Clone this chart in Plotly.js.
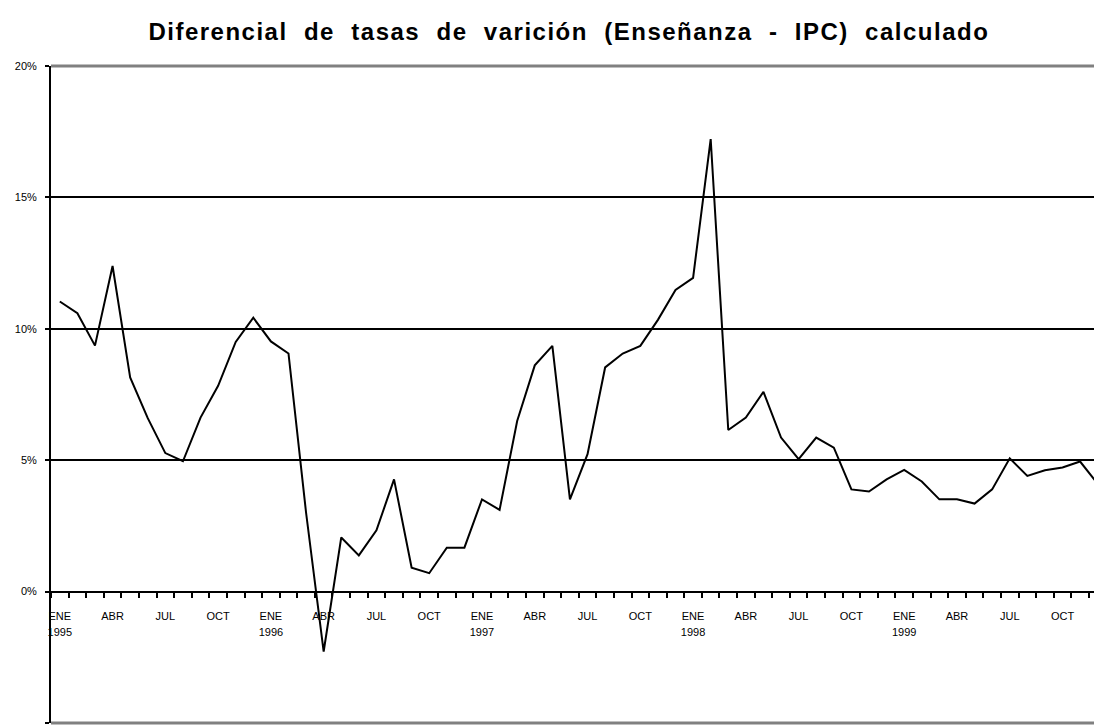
<!DOCTYPE html>
<html>
<head>
<meta charset="utf-8">
<script src="https://cdn.plot.ly/plotly-3.0.1.min.js"></script>
<style>
html,body{margin:0;padding:0;background:#fff;}
#chart{width:1094px;height:726px;}
#chart .gtitle{letter-spacing:1.5px;}
</style>
</head>
<body>
<div id="chart"></div>
<script>
// Months Jan 1995 .. Dec 1999
const months = [
  "ENE 1995","FEB 1995","MAR 1995","ABR 1995","MAY 1995","JUN 1995","JUL 1995","AGO 1995","SEP 1995","OCT 1995","NOV 1995","DIC 1995",
  "ENE 1996","FEB 1996","MAR 1996","ABR 1996","MAY 1996","JUN 1996","JUL 1996","AGO 1996","SEP 1996","OCT 1996","NOV 1996","DIC 1996",
  "ENE 1997","FEB 1997","MAR 1997","ABR 1997","MAY 1997","JUN 1997","JUL 1997","AGO 1997","SEP 1997","OCT 1997","NOV 1997","DIC 1997",
  "ENE 1998","FEB 1998","MAR 1998","ABR 1998","MAY 1998","JUN 1998","JUL 1998","AGO 1998","SEP 1998","OCT 1998","NOV 1998","DIC 1998",
  "ENE 1999","FEB 1999","MAR 1999","ABR 1999","MAY 1999","JUN 1999","JUL 1999","AGO 1999","SEP 1999","OCT 1999","NOV 1999","DIC 1999"
];
// Differential (%)
const diferencial = [
  11.04, 10.59, 9.36, 12.39, 8.15, 6.60, 5.27, 4.96, 6.62, 7.83, 9.50, 10.42,
  9.52, 9.06, 3.00, -2.28, 2.06, 1.38, 2.33, 4.27, 0.91, 0.70, 1.67, 1.67,
  3.51, 3.11, 6.49, 8.61, 9.35, 3.51, 5.23, 8.53, 9.06, 9.35, 10.34, 11.48,
  11.94, 17.22, 6.15, 6.62, 7.60, 5.86, 5.04, 5.86, 5.48, 3.89, 3.81, 4.27,
  4.63, 4.19, 3.51, 3.51, 3.35, 3.89, 5.07, 4.40, 4.62, 4.72, 4.95, 4.10
];
// Month tick labels shown every 3 months
const tickMonths = ["ENE 1995","ABR 1995","JUL 1995","OCT 1995","ENE 1996","ABR 1996","JUL 1996","OCT 1996",
  "ENE 1997","ABR 1997","JUL 1997","OCT 1997","ENE 1998","ABR 1998","JUL 1998","OCT 1998",
  "ENE 1999","ABR 1999","JUL 1999","OCT 1999"];
const tickLabels = ["ENE","ABR","JUL","OCT","ENE","ABR","JUL","OCT",
  "ENE","ABR","JUL","OCT","ENE","ABR","JUL","OCT",
  "ENE","ABR","JUL","OCT"];
// Year labels under each January
const yearMonths = ["ENE 1995","ENE 1996","ENE 1997","ENE 1998","ENE 1999"];
const yearLabels = ["1995","1996","1997","1998","1999"];
const yTicks = [-5, 0, 5, 10, 15, 20];
const yTickLabels = ["-5%","0%","5%","10%","15%","20%"];

const xIdx = months.map((m, i) => i);
const tickIdx = tickMonths.map(m => months.indexOf(m));
const yearIdx = yearMonths.map(m => months.indexOf(m));
const boundaryIdx = months.map((m, i) => i - 0.5);
const xRange = [-0.5, 58.79];
const yRange = [-5, 20];
const zeroPos = (0 - yRange[0]) / (yRange[1] - yRange[0]);

const font = {family: "Liberation Sans, Arial, sans-serif", size: 11, color: "#000"};

const data = [{
  x: xIdx,
  y: diferencial,
  type: "scatter",
  mode: "lines",
  line: {color: "#000", width: 2},
  hoverinfo: "text",
  text: months.map((m, i) => m + ": " + diferencial[i].toFixed(2) + "%"),
  showlegend: false
},
{x: [xRange[0]], y: [null], xaxis: "x2", yaxis: "y", type: "scatter", mode: "lines", showlegend: false, hoverinfo: "skip"},
{x: [xRange[0]], y: [null], xaxis: "x3", yaxis: "y", type: "scatter", mode: "lines", showlegend: false, hoverinfo: "skip"}];

const layout = {
  width: 1094,
  height: 726,
  margin: {l: 51, r: 0, t: 66, b: 3},
  paper_bgcolor: "#fff",
  plot_bgcolor: "#fff",
  font: font,
  title: {
    text: "<b>Diferencial&nbsp; de&nbsp; tasas&nbsp; de&nbsp; varición&nbsp; (Enseñanza&nbsp; -&nbsp; IPC)&nbsp; calculado</b>",
    font: {family: "Liberation Sans, Arial, sans-serif", size: 24, color: "#000"},
    x: 0.52, xanchor: "center", xref: "container",
    y: 0.957, yanchor: "middle", yref: "container"
  },
  xaxis: {
    range: xRange,
    anchor: "free",
    position: zeroPos,
    tickmode: "array",
    tickvals: tickIdx,
    ticktext: tickLabels,
    ticks: "",
    showline: true,
    linecolor: "#000",
    linewidth: 2,
    showgrid: false,
    zeroline: false,
    tickfont: font,
    ticklabelstandoff: 14,
    fixedrange: true
  },
  xaxis2: {
    range: xRange,
    overlaying: "x",
    anchor: "free",
    position: zeroPos,
    tickmode: "array",
    tickvals: boundaryIdx,
    ticks: "outside",
    ticklen: 5,
    tickwidth: 2,
    tickcolor: "#000",
    showticklabels: false,
    showline: false,
    showgrid: false,
    zeroline: false,
    fixedrange: true
  },
  xaxis3: {
    range: xRange,
    overlaying: "x",
    anchor: "free",
    position: zeroPos,
    tickmode: "array",
    tickvals: yearIdx,
    ticktext: yearLabels,
    ticks: "",
    showline: false,
    showgrid: false,
    zeroline: false,
    tickfont: font,
    ticklabelstandoff: 32,
    fixedrange: true
  },
  yaxis: {
    range: yRange,
    tickmode: "array",
    tickvals: yTicks,
    ticktext: yTickLabels,
    ticks: "outside",
    ticklen: 4,
    tickwidth: 2,
    tickcolor: "#000",
    showline: true,
    linecolor: "#000",
    linewidth: 2,
    showgrid: true,
    gridcolor: "#000",
    gridwidth: 1.5,
    zeroline: false,
    tickfont: font,
    ticklabelstandoff: 6,
    fixedrange: true
  },
  shapes: [
    {type: "line", xref: "paper", yref: "paper", x0: 0, x1: 1, y0: 1, y1: 1, line: {color: "#808080", width: 3}, layer: "above"},
    {type: "line", xref: "paper", yref: "paper", x0: 0, x1: 1, y0: 0, y1: 0, line: {color: "#808080", width: 3}, layer: "above"}
  ]
};

Plotly.newPlot("chart", data, layout, {displayModeBar: false});
</script>
</body>
</html>
